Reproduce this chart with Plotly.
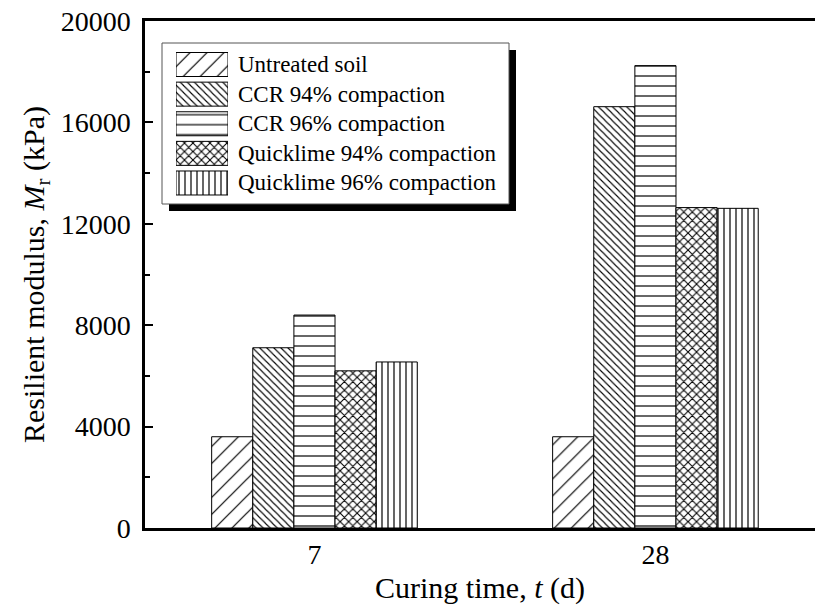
import plotly.graph_objects as go

# Resilient modulus (kPa) by curing time
curing_days = ["7", "28"]
series_names = [
    "Untreated soil",
    "CCR 94% compaction",
    "CCR 96% compaction",
    "Quicklime 94% compaction",
    "Quicklime 96% compaction",
]
untreated = [3600, 3600]
ccr_94 = [7110, 16620]
ccr_96 = [8400, 18240]
quicklime_94 = [6200, 12640]
quicklime_96 = [6550, 12610]

series_values = [untreated, ccr_94, ccr_96, quicklime_94, quicklime_96]
y_ticks = [0, 4000, 8000, 12000, 16000, 20000]

hatch_shapes = ["/", "\\", "-", "x", "|"]
hatch_sizes = [12, 5, 10, 6, 6]
hatch_solidity = [0.1, 0.22, 0.12, 0.32, 0.2]

FONT = "Liberation Serif, Times New Roman, serif"

fig = go.Figure()

for name, vals, shp, sz, sol in zip(series_names, series_values,
                                    hatch_shapes, hatch_sizes, hatch_solidity):
    fig.add_trace(go.Bar(
        x=curing_days, y=vals, name=name, showlegend=False,
        marker=dict(
            color="white",
            line=dict(color="black", width=1),
            pattern=dict(shape=shp, size=sz, solidity=sol,
                         fgcolor="black", bgcolor="white", fgopacity=1),
        ),
    ))

# Hand-built key: one patterned swatch per series on a small inset axis
fig.add_trace(go.Bar(
    x=[1] * len(series_names), y=series_names, orientation="h",
    xaxis="x2", yaxis="y2", showlegend=False, width=0.81,
    marker=dict(
        color="white",
        line=dict(color="black", width=1),
        pattern=dict(shape=hatch_shapes, size=hatch_sizes,
                     solidity=hatch_solidity, fgcolor="black",
                     bgcolor="white", fgopacity=1),
    ),
    hoverinfo="skip",
))

W, H = 815, 609
L, T, B = 145, 21, 81
pw, ph = W - L, H - T - B


def px_x(p):
    return (p - L) / pw


def px_y(p):
    return (H - B - p) / ph


# key frame with drop shadow
shadow = 7
fig.add_shape(type="rect", xref="paper", yref="paper", layer="below",
              x0=px_x(162 + shadow), x1=px_x(509 + shadow),
              y0=px_y(204 + shadow), y1=px_y(43 + shadow),
              fillcolor="black", line=dict(width=0))
fig.add_shape(type="rect", xref="paper", yref="paper", layer="below",
              x0=px_x(162), x1=px_x(509), y0=px_y(204), y1=px_y(43),
              fillcolor="white", line=dict(color="#555", width=1))

for name in series_names:
    fig.add_annotation(x=px_x(236), y=name, xref="paper", yref="y2",
                       text=name, showarrow=False, xanchor="left",
                       yanchor="middle",
                       font=dict(family=FONT, size=23, color="black"))

fig.update_layout(
    width=W, height=H,
    margin=dict(l=L, r=0, t=T, b=B),
    paper_bgcolor="white", plot_bgcolor="rgba(0,0,0,0)",
    barmode="group", bargap=0.397, bargroupgap=0,
    font=dict(family=FONT, color="black"),
    xaxis=dict(
        type="category", range=[-0.497, 1.468],
        showline=True, linecolor="black", linewidth=2.5, mirror=True,
        ticks="", showgrid=False, zeroline=False,
        tickfont=dict(family=FONT, size=28),
        title=dict(text="Curing time, <i>t</i> (d)",
                   font=dict(family=FONT, size=30), standoff=8),
    ),
    yaxis=dict(
        range=[0, 20000], tickvals=y_ticks, tickformat="d",
        showline=True, linecolor="black", linewidth=2.5, mirror=False,
        ticks="inside", ticklen=8, tickwidth=2, tickcolor="black",
        minor=dict(dtick=2000, ticks="inside", ticklen=5, tickwidth=1.5,
                   tickcolor="black", showgrid=False),
        showgrid=False, zeroline=False,
        tickfont=dict(family=FONT, size=28), ticklabelstandoff=6,
        title=dict(text="Resilient modulus, <i>M</i><sub>r</sub> (kPa)",
                   font=dict(family=FONT, size=30), standoff=8),
    ),
    xaxis2=dict(domain=[px_x(176), px_x(228)], range=[0, 1],
                anchor="y2", visible=False, fixedrange=True),
    yaxis2=dict(domain=[px_y(197.8), px_y(49.7)], range=[4.5, -0.5],
                type="category", anchor="x2", visible=False,
                fixedrange=True),
)

fig.write_html("out.html")
